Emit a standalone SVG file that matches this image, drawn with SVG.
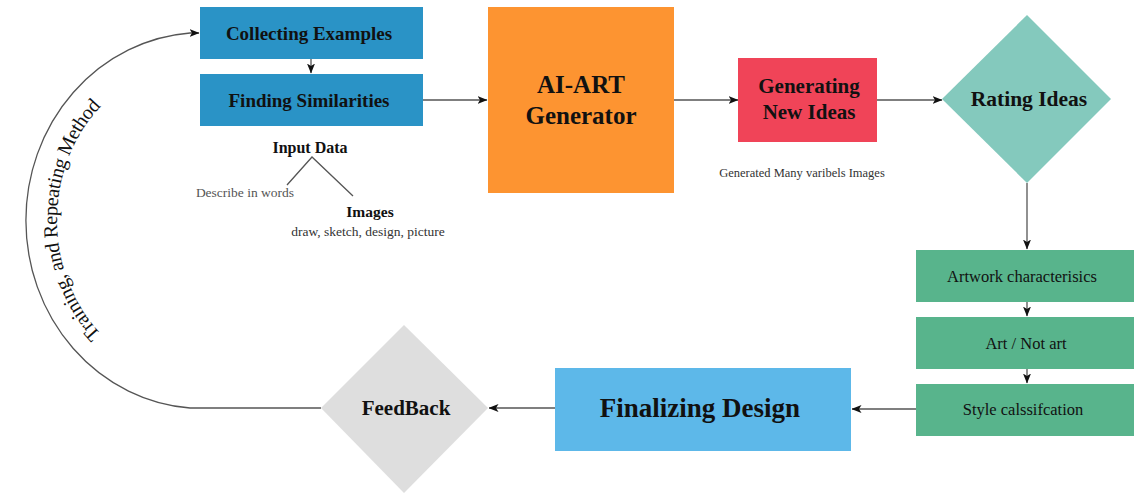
<svg xmlns="http://www.w3.org/2000/svg" width="1134" height="495" viewBox="0 0 1134 495">
  <style>
    .lbl { font-family: "Liberation Serif", "Times New Roman", serif; fill: #111; text-anchor: middle; dominant-baseline: central; }
    .b { font-weight: bold; }
    .link { fill: none; stroke: #555; stroke-width: 1.3; }
  </style>
  <defs>
    <marker id="arrow" viewBox="0 0 10 8" refX="9.5" refY="4" markerWidth="10" markerHeight="8" markerUnits="userSpaceOnUse" orient="auto">
      <path d="M0,0 L10,4 L0,8 L2.5,4 Z" fill="#111"/>
    </marker>
    <!-- baseline for the curved loop label -->
    <path id="loopText" d="M 190 380 A 140 160 0 0 1 190 60"/>
  </defs>

  <rect width="1134" height="495" fill="#fff"/>

  <!-- connectors -->
  <g id="connectors">
    <path class="link" d="M311 59 V73" marker-end="url(#arrow)"/>
    <path class="link" d="M423 100 H487" marker-end="url(#arrow)"/>
    <path class="link" d="M674 100 H738" marker-end="url(#arrow)"/>
    <path class="link" d="M877 100 H942" marker-end="url(#arrow)"/>
    <path class="link" d="M1027 183 V249" marker-end="url(#arrow)"/>
    <path class="link" d="M1027 302 V316" marker-end="url(#arrow)"/>
    <path class="link" d="M1027 369 V383" marker-end="url(#arrow)"/>
    <path class="link" d="M916 409 H852" marker-end="url(#arrow)"/>
    <path class="link" d="M555 408 H489" marker-end="url(#arrow)"/>
    <path class="link" d="M321 408 H190 A 177 188 0 0 1 190 33 H199" marker-end="url(#arrow)"/>
    <!-- input data branches -->
    <path class="link" d="M287 185 L312 157 L353 196"/>
    <text class="lbl" font-size="20"><textPath href="#loopText" startOffset="50%">Training, and Repeating Method</textPath></text>
  </g>

  <g id="collecting">
    <rect x="200" y="7" width="223" height="52" fill="#2a93c6"/>
    <text class="lbl b" x="309" y="33" font-size="19">Collecting Examples</text>
  </g>
  <g id="finding">
    <rect x="200" y="74" width="223" height="52" fill="#2a93c6"/>
    <text class="lbl b" x="309" y="100" font-size="19">Finding Similarities</text>
  </g>

  <g id="input-data">
    <text class="lbl b" x="310" y="147" font-size="16">Input Data</text>
    <text class="lbl" x="245" y="192" font-size="13.5" fill="#555" style="fill:#555">Describe in words</text>
    <text class="lbl b" x="370" y="211" font-size="15.5">Images</text>
    <text class="lbl" x="368" y="231" font-size="13.5" style="fill:#333">draw, sketch, design, picture</text>
  </g>

  <g id="ai-art">
    <rect x="488" y="7" width="186" height="186" fill="#fd9431"/>
    <text class="lbl b" x="581" y="84" font-size="25">AI-ART</text>
    <text class="lbl b" x="581" y="115" font-size="25">Generator</text>
  </g>

  <g id="generating">
    <rect x="738" y="58" width="139" height="84" fill="#f04458"/>
    <text class="lbl b" x="809" y="86" font-size="21">Generating</text>
    <text class="lbl b" x="809" y="112" font-size="21">New Ideas</text>
    <text class="lbl" x="802" y="173" font-size="12.5" style="fill:#333">Generated Many varibels Images</text>
  </g>

  <g id="rating">
    <polygon points="1027,15 1111,99 1027,183 942,99" fill="#84c9bd"/>
    <text class="lbl b" x="1029" y="99" font-size="21.5">Rating Ideas</text>
  </g>

  <g id="artwork">
    <rect x="916" y="250" width="218" height="52" fill="#58b48c"/>
    <text class="lbl" x="1022" y="276" font-size="16.5">Artwork characterisics</text>
  </g>
  <g id="art-not-art">
    <rect x="916" y="317" width="218" height="52" fill="#58b48c"/>
    <text class="lbl" x="1026" y="343" font-size="16.5">Art / Not art</text>
  </g>
  <g id="style">
    <rect x="916" y="384" width="218" height="52" fill="#58b48c"/>
    <text class="lbl" x="1023" y="409" font-size="16.5">Style calssifcation</text>
  </g>

  <g id="finalizing">
    <rect x="555" y="368" width="296" height="83" fill="#5db8e9"/>
    <text class="lbl b" x="700" y="408" font-size="27">Finalizing Design</text>
  </g>

  <g id="feedback">
    <polygon points="404,325 488,408 404,493 321,408" fill="#dedede"/>
    <text class="lbl b" x="406" y="408" font-size="21">FeedBack</text>
  </g>
</svg>
